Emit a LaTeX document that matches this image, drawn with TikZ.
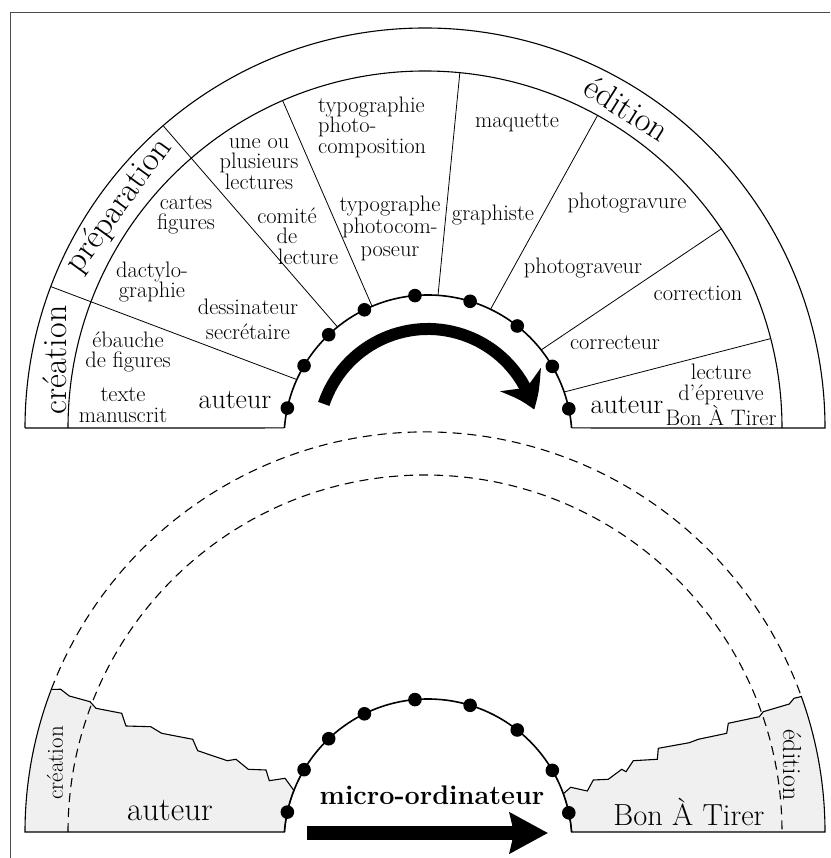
\documentclass[tikz,border=0pt]{standalone}
\usepackage{fontspec}
\usepackage{tikz}
\usetikzlibrary{arrows.meta,bending,calc}

\begin{document}
\begin{tikzpicture}[x=1pt,y=1pt,
    lbl/.style={align=center,font=\fontsize{22.4}{20.5}\selectfont,inner sep=0pt},
    big/.style={font=\fontsize{34}{34}\selectfont,inner sep=0pt},
    mid/.style={font=\fontsize{28}{28}\selectfont,inner sep=0pt},
    ring/.style={line width=1.1pt},
    dotring/.style={line width=1.6pt},
    spoke/.style={line width=0.8pt},
    dashring/.style={line width=1.1pt,dash pattern=on 9pt off 6pt},
    shade/.style={fill=gray!12,draw=black,line width=1.1pt}]
        \def\ro{400}
        \def\ri{357}
        \def\rd{144}
        \useasboundingbox (0,0) rectangle (830,858);
        \fill[white] (0,0) rectangle (830,858);
        \coordinate (o1) at (425,430);
        \coordinate (c1) at (428,419);
        \coordinate (o2) at (425,26);
        \coordinate (c2) at (428,15);
        %Frame
        \draw[line width=1.3pt,black!70] (10.5,0) -- (10.5,845.3) -- (830,845.3);
        %Upper wheel
        \draw[ring] ($(o1)+(180:\ro)$) arc (180:0:\ro) -- ($(c1)+(4.4:\rd)$);
        \draw[ring] ($(o1)+(180:\ro)$) -- ($(c1)+(175.6:\rd)$);
        \draw[ring] ($(o1)+(180:\ri)$) arc (180:0:\ri);
        \draw[dotring] ($(c1)+(175.6:\rd)$) arc (175.6:4.4:\rd);
        \foreach \a/\s/\e in {159.3/137/\ro, 130.9/133.5/\ro, 113.5/132.6/\ri,
            84.4/133/\ri, 61.1/135.5/\ri, 33.9/140/\ri, 14.5/143.7/\ri}
          \draw[spoke] ($(o1)+(\a:\s)$) -- ($(o1)+(\a:\e)$);
        %Arrow (upper)
        \coordinate (ua) at ($(c1)+(161.4:110)$);
        \draw[line width=12pt,-{Stealth[length=33pt,width=46pt,inset=10pt,bend]}]
          (ua) arc (161.4:15.5:110);
        %Lower wheel
        \draw[shade] ($(o2)+(180:\ro)$) arc (180:159.1:\ro) -- (60.7,168.7) -- (69.3,162)
          -- (90,156.3) -- (96,149.7) -- (121.7,144.7) -- (126,132) -- (150.7,131.3)
          -- (161.7,124.7) -- (192.7,118.7) -- (197.7,107.3) -- (227.3,97.3) -- (236,98.7)
          -- (248.3,88.7) -- (266,88) -- (269.3,77.3) -- (285,79.7)
          -- ($(c2)+(158.6:\rd)$) arc (158.6:175.6:\rd) -- cycle;
        \draw[shade] ($(c2)+(20:\rd)$) -- (570.7,70.7) -- (587.3,67) -- (593.3,78)
          -- (608.3,78.7) -- (621.7,88.7) -- (626,86.3) -- (633.3,97.3) -- (657.3,98.7)
          -- (658.3,109.7) -- (689.3,115.3) -- (698.3,118.7) -- (726.7,124.7)
          -- (728.3,134.7) -- (759.3,141.3) -- (763.3,146.3) -- (789.3,154) -- (794,159.7)
          -- ($(o2)+(19.8:\ro)$) arc (19.8:0:\ro) -- ($(c2)+(4.4:\rd)$) arc (4.4:20:\rd) -- cycle;
        \draw[dashring] ($(o2)+(159.1:\ro)$) arc (159.1:19.8:\ro);
        \draw[dashring] ($(o2)+(180:\ri)$) arc (180:0:\ri);
        \draw[dotring] ($(c2)+(175.6:\rd)$) arc (175.6:4.4:\rd);
        %Arrow (lower)
        \coordinate (la) at (307,25);
        \coordinate (lb) at (548,25);
        \draw[line width=14pt,-{Stealth[length=38pt,width=40pt,inset=4pt]}] (la) -- (lb);
        %Dots
        \foreach \a in {167.6,149.4,133.6,116.2,95.2,73,51.7,30.3,12.1} {
          \fill ($(c1)+(\a:\rd)$) circle (6.8);
          \fill ($(c2)+(\a:\rd)$) circle (6.8);
        }
        %Phases
        \node[big,rotate=90] (crea) at (55,498) {création};
        \node[big,rotate=54] (prep) at ($(o1)+(144:378)$) {préparation};
        \node[big,rotate=-32.3] (edit) at ($(o1)+(57.7:378)$) {édition};
        %Tasks
        \node[lbl] (manu) at (123,453) {texte\\manuscrit};
        \node[lbl] (ebau) at (128,506) {ébauche\\de figures};
        \node[mid] (aut1) at (235,458) {auteur};
        \node[lbl] (dact) at (152,576) {dactylo-\\graphie};
        \node[lbl] (cart) at (186,643) {cartes\\figures};
        \node[lbl,font=\fontsize{22.4}{25}\selectfont] (dess) at (248,539) {dessinateur\\secrétaire};
        \node[lbl] (lect) at (259,694) {une ou\\plusieurs\\lectures};
        \node[lbl] (comi) at (287,622) {comité\\de\\\hspace*{42pt}lecture};
        \node[lbl,align=left,anchor=west] (typo) at (318,731) {typographie\\photo-\\composition};
        \node[lbl,font=\fontsize{22.4}{22.5}\selectfont] (tpgr) at (390,630) {typographe\\photocom-\\poseur};
        \node[lbl] (maqu) at (517,735) {maquette};
        \node[lbl] (grap) at (493,643) {graphiste};
        \node[lbl] (phgv) at (627,655) {photogravure};
        \node[lbl] (phgr) at (583,590) {photograveur};
        \node[lbl] (corr) at (698,565) {correction};
        \node[lbl] (crct) at (615,515) {correcteur};
        \node[mid] (aut2) at (627,453) {auteur};
        \node[lbl] (epre) at (721,463) {lecture\\d'épreuve\\Bon À Tirer};
        %Lower labels
        \node[font=\fontsize{23}{23}\selectfont,inner sep=0pt,rotate=90] (crea2) at (55,95) {création};
        \node[font=\fontsize{33}{33}\selectfont,inner sep=0pt] (aut3) at (170,48) {auteur};
        \node[font=\fontsize{27}{27}\selectfont\bfseries,inner sep=0pt] (micr) at (432,63) {micro-ordinateur};
        \node[font=\fontsize{30.5}{30.5}\selectfont,inner sep=0pt] (bat) at (689,46) {Bon À Tirer};
        \node[font=\fontsize{26}{26}\selectfont,inner sep=0pt,rotate=-90] (edit2) at (792,93) {édition};
\end{tikzpicture}
\end{document}
